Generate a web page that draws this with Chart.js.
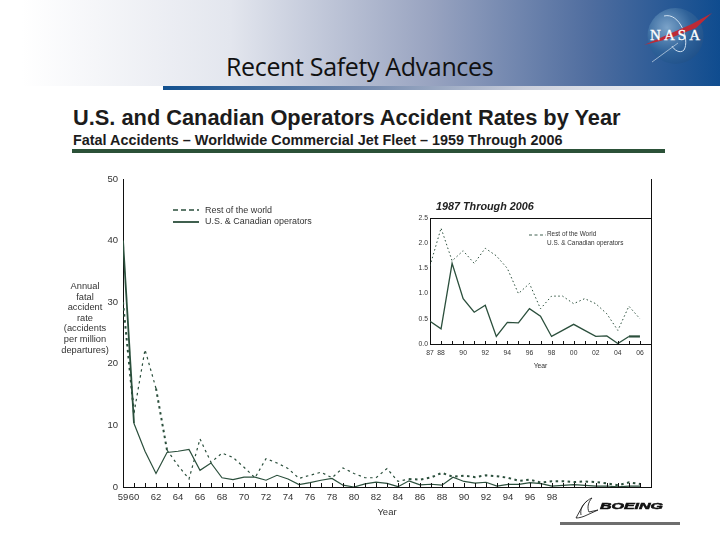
<!DOCTYPE html>
<html>
<head>
<meta charset="utf-8">
<script src="https://cdn.jsdelivr.net/npm/chart.js@4/dist/chart.umd.min.js"></script>
<style>
    html, body { margin: 0; padding: 0; background: #fff; }
    #page { position: relative; width: 720px; height: 540px; overflow: hidden; font-family: 'Liberation Sans', sans-serif; color: #222; }
    #page > * { position: absolute; }
    #banner { left: 0; top: 0; width: 720px; height: 86px; background: linear-gradient(to right, #fff 3%, #e3e6ee 32%, #98a3c0 60%, #4f6d9f 82%, #0f4c8f 100%); }
    #underbar { left: 163px; top: 86px; width: 557px; height: 4px; background: linear-gradient(to right, #12508f 0%, #6f86ab 35%, #c9cedb 65%, #fff 100%); }
    #slide-title { left: 226px; top: 49px; font: 25px 'Open Sans', sans-serif; letter-spacing: -0.35px; color: #111; white-space: nowrap; }
    #nasa { left: 640px; top: 0; }
    #heading { left: 73px; top: 105px; font-weight: bold; font-size: 21.8px; white-space: nowrap; color: #1c1c1c; }
    #subheading { left: 73px; top: 132px; font-weight: bold; font-size: 14.4px; white-space: nowrap; color: #1c1c1c; }
    #rule { left: 72px; top: 149px; width: 593px; height: 4px; background: #2b5138; }
    #main-chart { left: 0; top: 170px; }
    #inset-chart { left: 400px; top: 210px; }
    #y-title { left: 55px; top: 281px; width: 60px; text-align: center; font-size: 9.3px; line-height: 10.6px; color: #333; }
    #inset-title { left: 436px; top: 200px; font-weight: bold; font-style: italic; font-size: 10.8px; white-space: nowrap; }
    .legend { font-size: 8.95px; color: #333; white-space: nowrap; }
    .key { height: 0; }
    #boeing { left: 574px; top: 496px; }
    #boeing-bar { left: 560px; top: 522px; width: 120px; height: 3px; background: #6e6e6e; }
</style>
</head>
<body>
<div id="page">
    <div id="banner"></div>
    <div id="underbar"></div>
    <div id="slide-title">Recent Safety Advances</div>
    <svg id="nasa" width="80" height="70" viewBox="640 0 80 70">
        <defs>
            <radialGradient id="globe" cx="0.35" cy="0.35" r="0.8">
                <stop offset="0" stop-color="#7ba3c9"/>
                <stop offset="0.55" stop-color="#2f6299"/>
                <stop offset="1" stop-color="#1b4c86"/>
            </radialGradient>
        </defs>
        <circle cx="675.5" cy="36" r="28" fill="url(#globe)"/>
        <path d="M664 16 C680 12 690 40 684 50 C680 54 674 50 672 46" fill="none" stroke="#cfe0f0" stroke-width="1"/>
        <path d="M644 45 L692 24 L712 13 L696 28 L668 39 Z" fill="#bd2a35"/>
        <path d="M652 62 L678 43" stroke="#b9cde0" stroke-width="0.8"/>
        <text x="675" y="40" text-anchor="middle" font-family="Liberation Serif" font-size="15" textLength="50" fill="#fff" stroke="#fff" stroke-width="0.3">NASA</text>
    </svg>
    <div id="heading">U.S. and Canadian Operators Accident Rates by Year</div>
    <div id="subheading">Fatal Accidents – Worldwide Commercial Jet Fleet – 1959 Through 2006</div>
    <div id="rule"></div>
    <canvas id="main-chart" width="720" height="360"></canvas>
    <canvas id="inset-chart" width="260" height="170"></canvas>
    <div id="y-title">Annual<br>fatal<br>accident<br>rate<br>(accidents<br>per million<br>departures)</div>
    <svg class="key" style="left:173px;top:206px;height:20px;overflow:visible" width="26">
        <line x1="0" y1="4" x2="26" y2="4" stroke="#2b4f3c" stroke-width="1.6" stroke-dasharray="5 3"/>
        <line x1="0" y1="16" x2="26" y2="16" stroke="#2b4f3c" stroke-width="1.8"/>
    </svg>
    <div class="legend" style="left:205px;top:205px">Rest of the world</div>
    <div class="legend" style="left:205px;top:216px">U.S. &amp; Canadian operators</div>
    <div id="inset-title">1987 Through 2006</div>
    <svg class="key" style="left:529px;top:231px;height:6px;overflow:visible" width="17">
        <line x1="0" y1="4" x2="17" y2="4" stroke="#2b4f3c" stroke-width="0.9" stroke-dasharray="3 2.5"/>
    </svg>
    <div class="legend" style="left:547px;top:230px;font-size:6.4px">Rest of the World</div>
    <div class="legend" style="left:547px;top:239px;font-size:6.4px">U.S. &amp; Canadian operators</div>
    <svg id="boeing" width="95" height="26" viewBox="0 0 95 26">
        <path d="M2 22 L8 11 C11 6 15 3 18 2 C14 6 13 12 15 16 L24 14 L13 19 C9 21 5 22 2 22 Z M7 19 C6 14 8 9 13 5" fill="none" stroke="#222" stroke-width="0.9"/>
        <text x="26" y="12.5" font-family="Liberation Sans" font-weight="bold" font-style="italic" font-size="8.5" textLength="63" lengthAdjust="spacingAndGlyphs" fill="#111" stroke="#111" stroke-width="0.5">BOEING</text>
    </svg>
    <div id="boeing-bar"></div>
</div>

<script>
// Values
const mainYears = [1959, 1960, 1961, 1962, 1963, 1964, 1965, 1966, 1967, 1968, 1969, 1970, 1971, 1972, 1973, 1974,
    1975, 1976, 1977, 1978, 1979, 1980, 1981, 1982, 1983, 1984, 1985, 1986, 1987, 1988, 1989, 1990, 1991, 1992,
    1993, 1994, 1995, 1996, 1997, 1998, 1999, 2000, 2001, 2002, 2003, 2004, 2005, 2006];
const mainRestOfWorld = [30, 12, 22.3, 16, 6, 3.5, 1.3, 7.8, 4, 5.5, 4.8, 3.2, 1.5, 4.6, 3.9, 3, 1.4, 1.9, 2.4, 1.5, 3.1,
    2.2, 1.5, 1.5, 3, 0.9, 1.3, 1.2, 1.55, 2.3, 1.65, 1.85, 1.6, 1.9, 1.75, 1.5, 1, 1.2, 0.7, 0.95, 0.95, 0.8, 0.9,
    0.8, 0.6, 0.27, 0.75, 0.5];
const mainUsCanada = [40, 10.3, 5.8, 2.2, 5.6, 5.8, 6.1, 2.7, 3.9, 1.5, 1.2, 1.6, 1.6, 1.1, 1.9, 1.3, 0.4, 0.7, 1.1, 1.4,
    0.3, 0, 0.5, 0.8, 0.6, 0.05, 1, 0.35, 0.45, 0.3, 1.6, 0.9, 0.63, 0.77, 0.15, 0.43, 0.42, 0.7, 0.55, 0.15, 0.27,
    0.39, 0.27, 0.15, 0.16, 0.01, 0.15, 0.15];
const mainTickLabels = [1959, 1960, 1962, 1964, 1966, 1968, 1970, 1972, 1974, 1976, 1978, 1980, 1982, 1984, 1986, 1988,
    1990, 1992, 1994, 1996, 1998];

const insetYears = [1987, 1988, 1989, 1990, 1991, 1992, 1993, 1994, 1995, 1996, 1997, 1998, 1999, 2000, 2001, 2002,
    2003, 2004, 2005, 2006];
const insetRestOfWorld = [1.55, 2.3, 1.65, 1.85, 1.6, 1.9, 1.75, 1.5, 1, 1.2, 0.7, 0.95, 0.95, 0.8, 0.9, 0.8, 0.6, 0.27, 0.75, 0.5];
const insetUsCanada = [0.45, 0.3, 1.6, 0.9, 0.63, 0.77, 0.15, 0.43, 0.42, 0.7, 0.55, 0.15, 0.27, 0.39, 0.27, 0.15, 0.16, 0.01, 0.15, 0.15];
const insetTickLabels = [1987, 1988, 1990, 1992, 1994, 1996, 1998, 2000, 2002, 2004, 2006];

const green = '#2b4f3c';
const axisColor = '#111';
Chart.defaults.font.family = "'Liberation Sans', sans-serif";
Chart.defaults.animation = false;

const toXY = (xs, ys) => xs.map((x, i) => ({ x: x, y: ys[i] }));
const twoDigits = v => String(v % 100).padStart(2, '0');

// ticks of the x axis point up into the plot, and the plot is closed on the right
const innerTicks = {
    id: 'innerTicks',
    afterDatasetsDraw(chart, args, opts) {
        const { ctx, chartArea, scales } = chart;
        ctx.save();
        ctx.strokeStyle = axisColor;
        ctx.lineWidth = 1;
        ctx.beginPath();
        for (let year = scales.x.min; year <= scales.x.max; year++) {
            const px = Math.round(scales.x.getPixelForValue(year)) + 0.5;
            ctx.moveTo(px, chartArea.bottom);
            ctx.lineTo(px, chartArea.bottom - opts.length);
        }
        const right = Math.round(chartArea.right) + 0.5;
        ctx.moveTo(right, chartArea.top);
        ctx.lineTo(right, chartArea.bottom);
        if (opts.closeTop) {
            ctx.moveTo(chartArea.left, chartArea.top + 0.5);
            ctx.lineTo(right, chartArea.top + 0.5);
        }
        ctx.stroke();
        ctx.restore();
    }
};

function buildChart(id, setup) {
    return new Chart(document.getElementById(id).getContext('2d'), {
        type: 'line',
        data: {
            datasets: [{
                label: 'Rest of the world',
                data: toXY(setup.years, setup.rest),
                borderColor: green,
                borderWidth: setup.restWidth,
                borderDash: setup.restDash,
                pointRadius: 0,
                tension: 0,
                segment: { borderWidth: setup.restSegment }
            }, {
                label: 'U.S. & Canadian operators',
                data: toXY(setup.years, setup.us),
                borderColor: green,
                borderWidth: setup.usWidth,
                pointRadius: 0,
                tension: 0,
                segment: { borderWidth: setup.usSegment }
            }]
        },
        options: {
            responsive: false,
            layout: { padding: setup.padding },
            plugins: {
                legend: { display: false },
                tooltip: { enabled: false },
                innerTicks: { length: setup.tickLen, closeTop: setup.closeTop }
            },
            scales: {
                x: {
                    type: 'linear',
                    min: setup.years[0],
                    max: 2007,
                    border: { color: axisColor },
                    grid: { display: false, drawTicks: false },
                    afterBuildTicks: scale => { scale.ticks = setup.tickLabels.map(v => ({ value: v })); },
                    afterFit: scale => { scale.height = setup.xHeight; },
                    ticks: {
                        autoSkip: false,
                        maxRotation: 0,
                        padding: setup.xPad,
                        color: '#333',
                        font: { size: setup.fontSize },
                        callback: v => twoDigits(v)
                    },
                    title: { display: true, text: 'Year', color: '#333', font: { size: setup.fontSize }, padding: 0 }
                },
                y: {
                    min: 0,
                    max: setup.yMax,
                    border: { color: axisColor },
                    grid: { display: false, drawTicks: true, tickLength: setup.yTick, tickColor: axisColor },
                    afterFit: scale => { scale.width = setup.yWidth; },
                    ticks: {
                        stepSize: setup.yStep,
                        padding: 2,
                        color: '#333',
                        font: { size: setup.fontSize },
                        callback: setup.yFormat
                    }
                }
            }
        },
        plugins: [innerTicks]
    });
}

buildChart('main-chart', {
    years: mainYears, rest: mainRestOfWorld, us: mainUsCanada, tickLabels: mainTickLabels,
    restWidth: 1.2, restDash: [2.5, 3.5], usWidth: 1.2,
    restSegment: c => (c.p0.parsed.x === 1959 || c.p0.parsed.x === 1962 || c.p0.parsed.x >= 1985) ? 2 : 1.2,
    usSegment: c => (c.p0.parsed.x === 1959 ? 1.8 : 1.2),
    padding: { left: 0, right: 69, top: 9, bottom: 12 },
    xHeight: 31, xPad: 5, fontSize: 9.5, yWidth: 123, yMax: 50, yStep: 10, yTick: 3, tickLen: 4, closeTop: false,
    yFormat: v => v
});

buildChart('inset-chart', {
    years: insetYears, rest: insetRestOfWorld, us: insetUsCanada, tickLabels: insetTickLabels,
    restWidth: 1, restDash: [1.5, 2.5], usWidth: 1.3,
    restSegment: () => 1,
    usSegment: c => (c.p0.parsed.x === 2005 ? 2.2 : 1.3),
    padding: { left: 0, right: 9, top: 8, bottom: 10 },
    xHeight: 26, xPad: 5, fontSize: 6.8, yWidth: 30, yMax: 2.5, yStep: 0.5, yTick: 0, tickLen: 3, closeTop: true,
    yFormat: v => v.toFixed(1)
});
</script>
</body>
</html>
